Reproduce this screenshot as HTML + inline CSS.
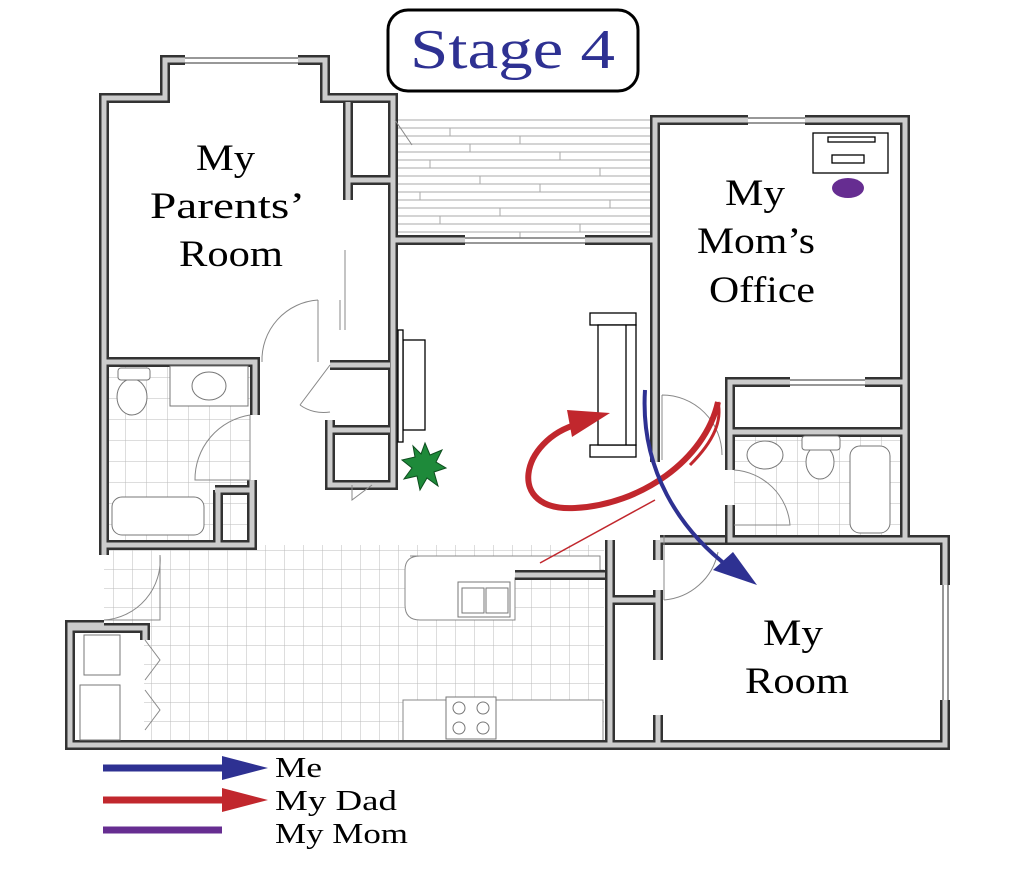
<!DOCTYPE html>
<html><head><meta charset="utf-8"><style>
html,body{margin:0;padding:0;background:#fff;}
svg{display:block;}
text{font-family:"Liberation Serif",serif;}
</style></head><body>
<svg width="1024" height="876" viewBox="0 0 1024 876" xmlns="http://www.w3.org/2000/svg">
<defs>
<pattern id="tile" width="19" height="19" patternUnits="userSpaceOnUse"><path d="M19 0V19H0" fill="none" stroke="#bbb" stroke-width="1"/></pattern>
<pattern id="tileS" width="21" height="21" patternUnits="userSpaceOnUse"><path d="M21 0V21H0" fill="none" stroke="#bbb" stroke-width="1"/></pattern>
</defs>

<rect x="104" y="545" width="500" height="197" fill="url(#tile)"/>
<rect x="108" y="366" width="142" height="178" fill="url(#tileS)"/>
<rect x="734" y="432" width="168" height="106" fill="url(#tileS)"/>
<g stroke="#aaa" stroke-width="1" fill="none">
<rect x="397" y="120" width="257" height="118" fill="#fff"/>
<path d="M397 128H654M397 136H654M397 144H654M397 152H654M397 160H654M397 168H654M397 176H654M397 184H654M397 192H654M397 200H654M397 208H654M397 216H654M397 224H654M397 232H654"/>
<path d="M450 128v8M520 136v8M470 144v8M560 152v8M430 160v8M600 168v8M480 176v8M540 184v8M420 192v8M610 200v8M500 208v8M440 216v8M580 224v8M520 232v6"/>
</g>
<path d="M410 556H600V578H515V620H420Q405 620 405 605V570Q405 556 420 556Z" fill="#fff" stroke="#888"/>
<rect x="403" y="700" width="200" height="42" fill="#fff" stroke="#888"/>
<rect x="70" y="628" width="74" height="115" fill="#fff"/>
<rect x="610" y="545" width="48" height="55" fill="#fff"/>

<g fill="none" stroke-linejoin="miter">
<g stroke="#333" stroke-width="10">
<path d="M104 555V98H165V60H185M298 60H325V98H393V240H465M585 240H655V120H748M805 120H905V540H945V585M945 700V745H70V625H104"/>
<path d="M104 362H255V415M252 480V545H104"/>
<path d="M215 490H252M218 490V545"/>
<path d="M348 102V200M348 180H393"/>
<path d="M393 240V485H330V430H390M330 485V420M330 365H390"/>
<path d="M655 240V462"/>
<path d="M730 470V382H790M865 382H905M730 432H905M730 505V540H905"/>
<path d="M660 540H725M610 540V745M610 600H658M658 540V560M658 590V660M658 715V745M515 575H605"/>
<path d="M70 628H145V640"/>
</g>
<g stroke="#ccc" stroke-width="5">
<path d="M104 555V98H165V60H185M298 60H325V98H393V240H465M585 240H655V120H748M805 120H905V540H945V585M945 700V745H70V625H104"/>
<path d="M104 362H255V415M252 480V545H104"/>
<path d="M215 490H252M218 490V545"/>
<path d="M348 102V200M348 180H393"/>
<path d="M393 240V485H330V430H390M330 485V420M330 365H390"/>
<path d="M655 240V462"/>
<path d="M730 470V382H790M865 382H905M730 432H905M730 505V540H905"/>
<path d="M660 540H725M610 540V745M610 600H658M658 540V560M658 590V660M658 715V745M515 575H605"/>
<path d="M70 628H145V640"/>
</g>
</g>
<g stroke="#777" stroke-width="1.5" fill="none">
<path d="M185 58H298M185 63H298"/>
<path d="M465 238H585M465 243H585"/>
<path d="M748 118H805M748 123H805"/>
<path d="M943 585V700M948 585V700"/>
<path d="M790 380H865M790 385H865"/>
</g>
<g stroke="#888" stroke-width="1" fill="none">
<path d="M318 300V362M318 300A60 60 0 0 0 262 362"/>
<path d="M250 415V480H195A65 65 0 0 1 250 415"/>
<path d="M330 365L300 405M300 405A40 40 0 0 0 330 412"/>
<path d="M352 485L352 500L372 485"/>
<path d="M662 395V460M662 395A60 60 0 0 1 722 455"/>
<path d="M734 470A60 60 0 0 1 790 525H734"/>
<path d="M664 600V535M664 600A60 60 0 0 0 718 552"/>
<path d="M160 555V620H104A60 60 0 0 0 160 555"/>
<path d="M145 640L160 660L145 680M145 690L160 710L145 730"/>
<path d="M395 120L412 145M345 250V330M340 300V330"/>
</g>
<g stroke="#777" stroke-width="1" fill="#fff">
<ellipse cx="132" cy="397" rx="15" ry="18"/>
<rect x="118" y="368" width="32" height="12" rx="3"/>
<rect x="170" y="366" width="78" height="40"/>
<ellipse cx="209" cy="386" rx="17" ry="14"/>
<rect x="112" y="497" width="92" height="38" rx="10"/>
<ellipse cx="765" cy="455" rx="18" ry="14"/>
<ellipse cx="820" cy="462" rx="14" ry="17"/>
<rect x="802" y="436" width="38" height="14" rx="3"/>
<rect x="850" y="446" width="40" height="87" rx="10"/>
<rect x="458" y="582" width="52" height="35"/>
<rect x="462" y="588" width="22" height="25"/><rect x="486" y="588" width="22" height="25"/>
<rect x="446" y="697" width="50" height="42"/>
<circle cx="459" cy="708" r="6"/><circle cx="483" cy="708" r="6"/><circle cx="459" cy="728" r="6"/><circle cx="483" cy="728" r="6"/>
<rect x="84" y="635" width="36" height="40"/><rect x="80" y="685" width="40" height="55"/>
</g>
<g fill="#fff" stroke="#000" stroke-width="1.3">
<rect x="813" y="133" width="75" height="40"/>
<rect x="828" y="137" width="47" height="5"/>
<rect x="832" y="155" width="32" height="8"/>
<rect x="590" y="313" width="46" height="12"/>
<rect x="590" y="445" width="46" height="12"/>
<rect x="598" y="325" width="38" height="120"/>
<line x1="626" y1="325" x2="626" y2="445"/>
<rect x="403" y="340" width="22" height="90"/>
<rect x="398" y="330" width="5" height="112"/>
</g>
<ellipse cx="848" cy="188" rx="16" ry="10" fill="#662d91"/>
<polygon points="425,443 430,455 442,450 436,462 446,468 434,472 438,486 427,478 420,490 417,476 404,479 412,468 402,460 415,457 413,446 421,454" fill="#1e8a3a" stroke="#0d4d1e" stroke-width="1"/>

<path d="M540 563L655 500" stroke="#c1272d" stroke-width="1.5" fill="none"/>
<path d="M718 402C705 460 640 505 575 508C505 512 520 440 578 424" stroke="#c1272d" stroke-width="6" fill="none"/>
<path d="M718 402C722 420 715 440 690 465" stroke="#c1272d" stroke-width="3" fill="none"/>
<polygon points="610,413 567,410 572,437" fill="#c1272d"/>
<path d="M645 390C640 470 680 530 730 568" stroke="#2e3192" stroke-width="4" fill="none"/>
<polygon points="757,585 713,570 733,552" fill="#2e3192"/>

<rect x="388" y="10" width="250" height="81" rx="20" fill="#fff" stroke="#000" stroke-width="3"/>
<text x="410" y="68" font-size="56" fill="#2e3192" textLength="205" lengthAdjust="spacingAndGlyphs">Stage 4</text>

<g font-size="37" fill="#000">
<text x="196" y="170" textLength="59" lengthAdjust="spacingAndGlyphs">My</text>
<text x="150" y="218" textLength="155" lengthAdjust="spacingAndGlyphs">Parents’</text>
<text x="179" y="266" textLength="104" lengthAdjust="spacingAndGlyphs">Room</text>
<text x="725" y="205" textLength="60" lengthAdjust="spacingAndGlyphs">My</text>
<text x="697" y="253" textLength="118" lengthAdjust="spacingAndGlyphs">Mom’s</text>
<text x="709" y="302" textLength="106" lengthAdjust="spacingAndGlyphs">Office</text>
<text x="763" y="645" textLength="60" lengthAdjust="spacingAndGlyphs">My</text>
<text x="745" y="693" textLength="104" lengthAdjust="spacingAndGlyphs">Room</text>
</g>

<line x1="103" y1="768" x2="232" y2="768" stroke="#2e3192" stroke-width="7"/>
<polygon points="268,768 222,756 222,780" fill="#2e3192"/>
<line x1="103" y1="800" x2="232" y2="800" stroke="#c1272d" stroke-width="7"/>
<polygon points="268,800 222,788 222,812" fill="#c1272d"/>
<line x1="103" y1="830" x2="222" y2="830" stroke="#662d91" stroke-width="7"/>
<g font-size="29" fill="#000">
<text x="275" y="777" textLength="47" lengthAdjust="spacingAndGlyphs">Me</text>
<text x="275" y="810" textLength="122" lengthAdjust="spacingAndGlyphs">My Dad</text>
<text x="275" y="843" textLength="133" lengthAdjust="spacingAndGlyphs">My Mom</text>
</g>
</svg>
</body></html>
